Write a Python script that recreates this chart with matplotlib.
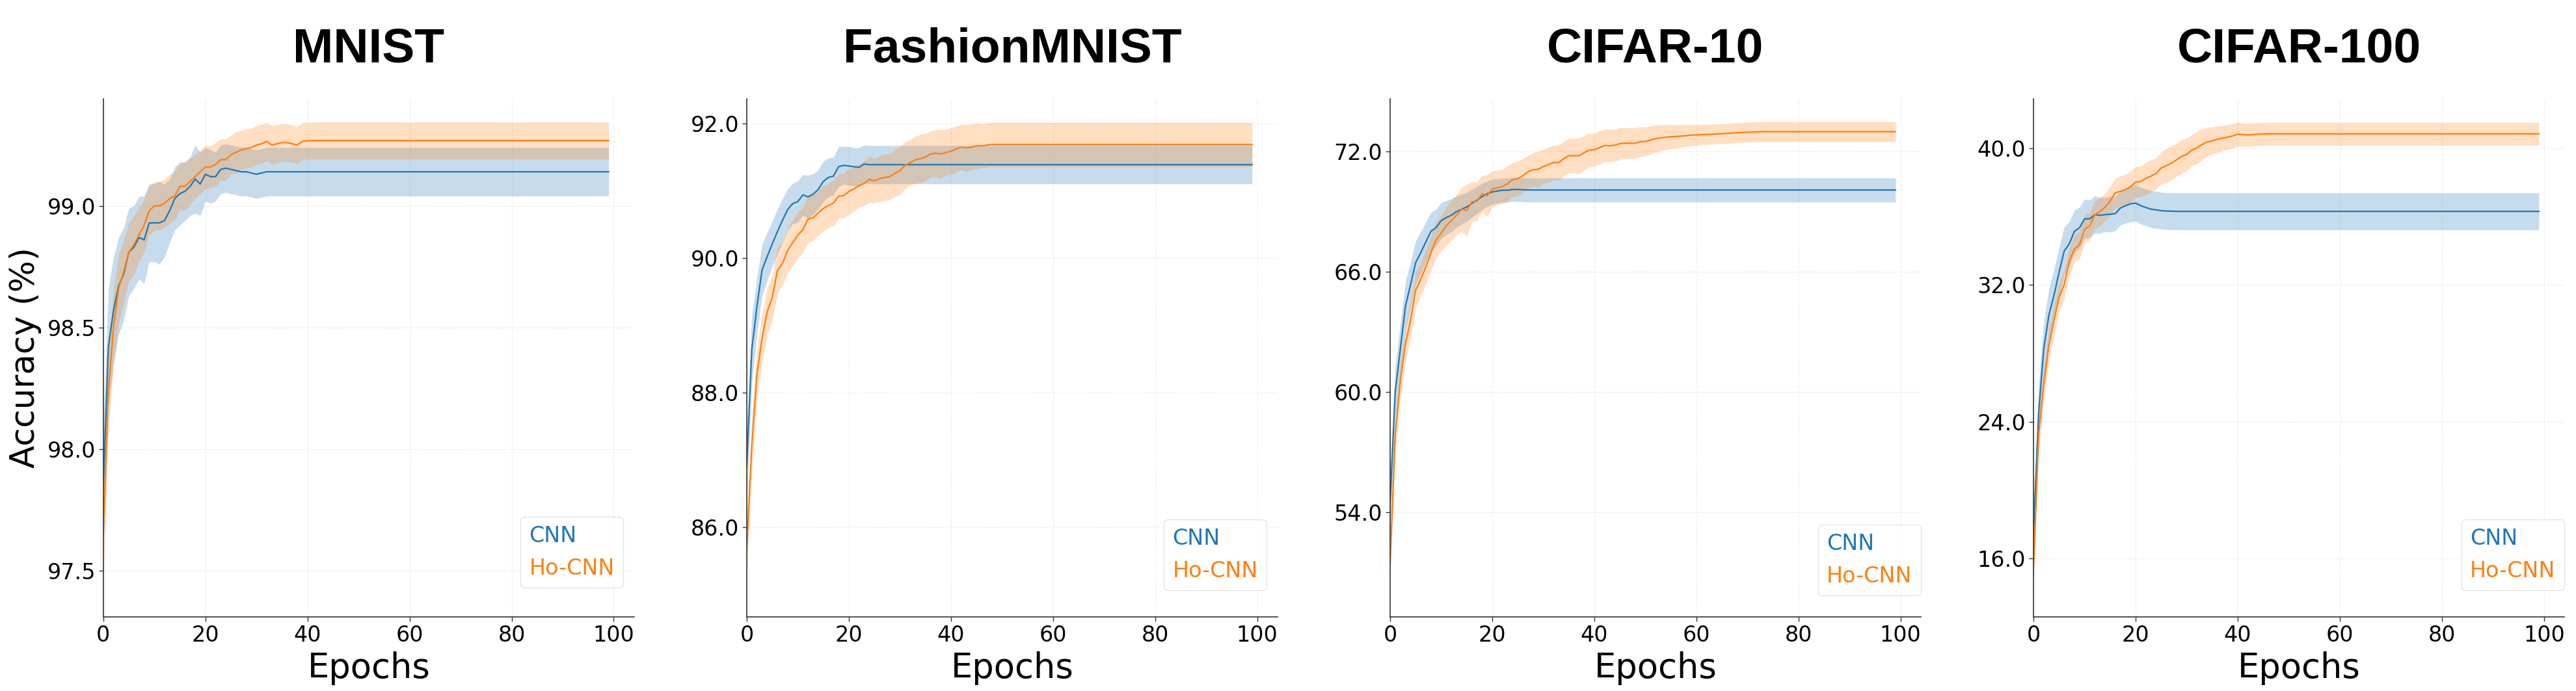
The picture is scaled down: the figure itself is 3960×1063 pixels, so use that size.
import numpy as np
import matplotlib
matplotlib.use("Agg")
import matplotlib.pyplot as plt
from matplotlib.ticker import FormatStrFormatter

n_epochs = 100
epochs = np.arange(n_epochs)

datasets = ["MNIST", "FashionMNIST", "CIFAR-10", "CIFAR-100"]
labels = ["CNN", "Ho-CNN"]

# ---- MNIST ----
mnist_cnn = [97.85, 98.42, 98.57, 98.67, 98.72, 98.81, 98.83, 98.87, 98.86, 98.93,
             98.93, 98.93, 98.94, 98.98, 99.03, 99.05, 99.06, 99.08, 99.11, 99.09,
             99.13, 99.12, 99.12, 99.15, 99.155, 99.15, 99.145, 99.14, 99.14, 99.135,
             99.13, 99.135]
mnist_cnn_end = 99.14
mnist_cnn_std = [0.25, 0.24, 0.22, 0.20, 0.19, 0.18, 0.17, 0.17, 0.18, 0.16,
                 0.16, 0.17, 0.15, 0.13, 0.13, 0.13, 0.12, 0.12, 0.14, 0.13,
                 0.11, 0.11, 0.10, 0.10, 0.10]
mnist_cnn_std_end = 0.10
mnist_ho = [97.65, 98.24, 98.50, 98.66, 98.73, 98.81, 98.84, 98.88, 98.92, 98.98,
            99.00, 99.00, 99.01, 99.03, 99.04, 99.08, 99.08, 99.10, 99.12, 99.14,
            99.16, 99.16, 99.17, 99.19, 99.19, 99.21, 99.22, 99.23, 99.235, 99.24,
            99.25, 99.255, 99.265, 99.25, 99.255, 99.26, 99.26, 99.255, 99.25, 99.265]
mnist_ho_end = 99.268
mnist_ho_std = [0.20, 0.17, 0.15, 0.14, 0.13, 0.12, 0.12, 0.11, 0.11, 0.10,
                0.10, 0.10, 0.10, 0.10, 0.10, 0.095, 0.10, 0.095, 0.09, 0.09,
                0.09, 0.085, 0.09, 0.085, 0.085, 0.08, 0.085, 0.08, 0.08, 0.08,
                0.08, 0.08, 0.078, 0.08, 0.078, 0.077, 0.078, 0.077, 0.076, 0.077]
mnist_ho_std_end = 0.076

# ---- FashionMNIST ----
fashion_cnn = [86.90, 88.64, 89.28, 89.82, 90.02, 90.21, 90.39, 90.56, 90.72, 90.81,
               90.84, 90.94, 90.91, 90.95, 91.02, 91.14, 91.20, 91.22, 91.36, 91.38,
               91.37, 91.36, 91.35, 91.40]
fashion_cnn_end = 91.39
fashion_cnn_std = [0.55, 0.50, 0.42, 0.38, 0.36, 0.34, 0.33, 0.32, 0.31, 0.30,
                   0.31, 0.30, 0.32, 0.30, 0.29, 0.30, 0.29, 0.28, 0.30, 0.28,
                   0.29, 0.28, 0.29]
fashion_cnn_std_end = 0.285
fashion_ho = [85.67, 87.21, 88.27, 88.80, 89.20, 89.41, 89.81, 89.92, 90.11, 90.23,
              90.34, 90.42, 90.58, 90.60, 90.67, 90.74, 90.78, 90.82, 90.92, 90.93,
              90.99, 91.03, 91.08, 91.11, 91.17, 91.15, 91.18, 91.20, 91.21, 91.26,
              91.30, 91.38, 91.42, 91.46, 91.48, 91.50, 91.55, 91.56, 91.55, 91.57,
              91.59, 91.62, 91.65, 91.64, 91.65, 91.67, 91.67, 91.68]
fashion_ho_end = 91.69
fashion_ho_std = [0.45, 0.42, 0.38, 0.36, 0.35, 0.34, 0.34, 0.33, 0.33, 0.34,
                  0.34, 0.34, 0.35, 0.34, 0.33, 0.34, 0.33, 0.34, 0.33, 0.33,
                  0.34, 0.33, 0.32, 0.33, 0.34, 0.33, 0.34, 0.35, 0.34, 0.35,
                  0.36, 0.35, 0.34, 0.35, 0.36, 0.35, 0.34, 0.35, 0.36, 0.34,
                  0.35, 0.34, 0.34, 0.35, 0.34, 0.34, 0.33]
fashion_ho_std_end = 0.33

# ---- CIFAR-10 ----
c10_cnn = [54.5, 60.02, 62.16, 64.29, 65.36, 66.46, 66.96, 67.50, 68.03, 68.21,
           68.56, 68.71, 68.83, 69.01, 69.13, 69.24, 69.42, 69.58, 69.76, 69.90,
           69.99, 70.04, 70.08, 70.08, 70.11, 70.12, 70.10]
c10_cnn_end = 70.09
c10_cnn_std = [1.4, 1.3, 1.25, 1.2, 1.15, 1.1, 1.05, 1.0, 0.95, 0.92,
               0.9, 0.85, 0.82, 0.78, 0.75, 0.72, 0.7, 0.68, 0.66, 0.64,
               0.62, 0.61]
c10_cnn_std_end = 0.6
c10_ho = [51.5, 57.88, 60.55, 62.42, 63.58, 65.09, 65.63, 66.25, 66.96, 67.59,
          67.94, 68.30, 68.56, 68.83, 69.13, 69.06, 69.49, 69.53, 69.90, 69.81,
          70.13, 70.20, 70.26, 70.40, 70.61, 70.65, 70.80, 71.00, 71.10, 71.12,
          71.26, 71.35, 71.46, 71.45, 71.65, 71.80, 71.80, 71.80, 71.95, 72.08,
          72.10, 72.20, 72.31, 72.30, 72.32, 72.40, 72.43, 72.42, 72.42, 72.50,
          72.51, 72.58, 72.65, 72.69, 72.72, 72.75, 72.76, 72.78, 72.80, 72.83,
          72.84, 72.85, 72.86, 72.87, 72.89, 72.90, 72.91, 72.93, 72.95, 72.96,
          72.97, 72.98, 72.99]
c10_ho_end = 73.0
c10_ho_std = [1.0, 1.0, 0.95, 0.9, 0.9, 0.88, 0.85, 0.85, 0.85, 0.9,
              0.9, 0.95, 1.0, 1.0, 1.1, 1.3, 1.0, 0.95, 0.9, 1.05,
              0.9, 0.88, 0.85, 0.9, 0.85, 0.88, 0.85, 0.8, 0.85, 0.9,
              0.85, 0.88, 0.85, 0.9, 0.85, 0.88, 0.85, 0.9, 0.85, 0.85,
              0.82, 0.85, 0.8, 0.82, 0.8, 0.8, 0.78, 0.77, 0.76, 0.75,
              0.72, 0.7, 0.68, 0.65, 0.62, 0.6, 0.58, 0.56, 0.55, 0.53,
              0.52, 0.51]
c10_ho_std_end = 0.5

# ---- CIFAR-100 ----
c100_cnn = [17.5, 24.49, 28.24, 30.22, 31.37, 32.72, 33.97, 34.39, 35.12, 35.33,
            35.85, 35.85, 36.10, 36.06, 36.10, 36.12, 36.16, 36.48, 36.62, 36.73,
            36.77, 36.62, 36.52, 36.42, 36.38, 36.33, 36.31, 36.30]
c100_cnn_end = 36.29
c100_cnn_std = [1.8, 1.7, 1.6, 1.55, 1.5, 1.45, 1.4, 1.3, 1.25, 1.2,
                1.15, 1.1, 1.1, 1.05, 1.0, 1.05, 1.0, 1.0, 1.02, 1.05,
                1.07]
c100_cnn_std_end = 1.08
c100_ho = [15.5, 23.24, 26.16, 28.45, 29.91, 31.26, 32.00, 33.35, 34.08, 34.33,
           35.23, 35.43, 36.10, 36.27, 36.54, 36.89, 37.37, 37.46, 37.56, 37.73,
           38.00, 38.04, 38.21, 38.35, 38.50, 38.83, 38.95, 39.11, 39.30, 39.50,
           39.62, 39.87, 40.00, 40.20, 40.34, 40.42, 40.50, 40.57, 40.63, 40.70,
           40.80, 40.78, 40.76, 40.78, 40.80, 40.81]
c100_ho_end = 40.82
c100_ho_std = [1.2, 1.1, 1.0, 0.95, 0.9, 0.85, 0.85, 0.8, 0.8, 0.8,
               0.8, 0.8, 0.8, 0.85, 0.8, 0.85, 0.85, 0.9, 0.9, 0.9,
               0.9, 0.9, 0.95, 0.95, 0.9, 0.95, 1.0, 1.0, 0.95, 1.0,
               0.95, 0.9, 0.95, 0.9, 0.85, 0.8, 0.78, 0.75, 0.72, 0.7,
               0.7, 0.68, 0.68]
c100_ho_std_end = 0.67

yticks = [[97.5, 98.0, 98.5, 99.0],
          [86.0, 88.0, 90.0, 92.0],
          [54.0, 60.0, 66.0, 72.0],
          [16.0, 24.0, 32.0, 40.0]]
ylims = [(97.31, 99.44), (84.66, 92.37), (48.78, 74.64), (12.58, 42.87)]
xticks = [0, 20, 40, 60, 80, 100]


def full(head, end):
    # values are read up to where each curve goes flat, then held constant
    return np.r_[head, [end] * (n_epochs - len(head))]


series = [
    [(mnist_cnn, mnist_cnn_end, mnist_cnn_std, mnist_cnn_std_end),
     (mnist_ho, mnist_ho_end, mnist_ho_std, mnist_ho_std_end)],
    [(fashion_cnn, fashion_cnn_end, fashion_cnn_std, fashion_cnn_std_end),
     (fashion_ho, fashion_ho_end, fashion_ho_std, fashion_ho_std_end)],
    [(c10_cnn, c10_cnn_end, c10_cnn_std, c10_cnn_std_end),
     (c10_ho, c10_ho_end, c10_ho_std, c10_ho_std_end)],
    [(c100_cnn, c100_cnn_end, c100_cnn_std, c100_cnn_std_end),
     (c100_ho, c100_ho_end, c100_ho_std, c100_ho_std_end)],
]

colors = ["#1f77b4", "#ff7f0e"]
legend_anchor = [(1.0, 0.035), (1.0, 0.03), (1.02, 0.02), (1.02, 0.03)]

fig, axes = plt.subplots(1, 4, figsize=(39.6, 10.63), dpi=100)
fig.subplots_adjust(left=0.0401, right=0.9955, bottom=0.1072, top=0.857, wspace=0.212)

for k, ax in enumerate(axes):
    for (head, end, sd_head, sd_end), lab, col in zip(series[k], labels, colors):
        m = full(head, end)
        s = full(sd_head, sd_end)
        ax.fill_between(epochs, m - s, m + s, color=col, alpha=0.25, lw=0)
        ax.plot(epochs, m, color=col, lw=1.6, label=lab)

    ax.set_xlim(0, 104)
    ax.set_ylim(*ylims[k])
    ax.set_xticks(xticks)
    ax.set_yticks(yticks[k])
    ax.yaxis.set_major_formatter(FormatStrFormatter("%.1f"))
    ax.tick_params(labelsize=24, length=5, width=1, color="#333333")
    ax.grid(True, ls="--", color="#eeeeee", lw=0.9)
    ax.set_axisbelow(True)
    for side in ["top", "right"]:
        ax.spines[side].set_visible(False)
    for side in ["left", "bottom"]:
        ax.spines[side].set_color("#333333")
        ax.spines[side].set_linewidth(1.2)

    ax.set_title(datasets[k], fontsize=54, fontweight="bold",
                 family="Liberation Sans", pad=41)
    ax.set_xlabel("Epochs", fontsize=38, labelpad=6)

    leg = ax.legend(loc="lower right", bbox_to_anchor=legend_anchor[k],
                    fontsize=24, handlelength=0, handletextpad=0,
                    labelcolor="linecolor", fancybox=True, framealpha=0.8,
                    edgecolor="#dddddd")
    for h in leg.legend_handles:
        h.set_visible(False)

axes[0].set_ylabel("Accuracy (%)", fontsize=37, labelpad=6)

fig.savefig("out.png", dpi=100)
